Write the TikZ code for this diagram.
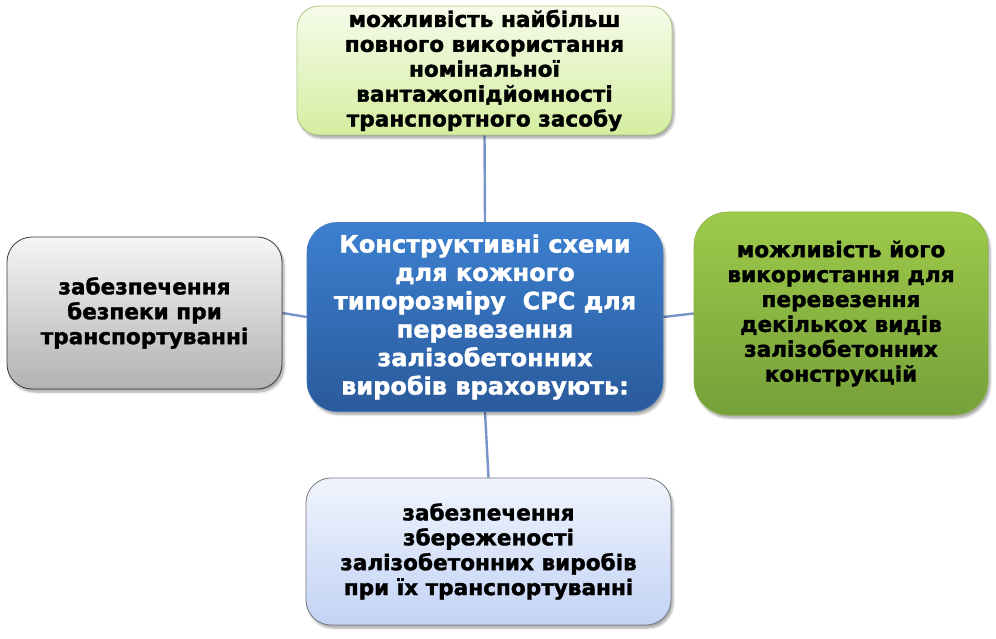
\documentclass[tikz,border=0pt]{standalone}
\usepackage{fontspec}
\setmainfont{DejaVu Sans}[BoldFeatures={FakeBold=1.5}]
\usetikzlibrary{shadows.blur,backgrounds}
\definecolor{linkc}{RGB}{118,148,200}
\tikzset{
  x=1pt,y=-1pt,
  box/.style={rectangle, rounded corners=24pt, align=center, inner sep=0pt,
    font=\fontsize{21.6}{24.9}\selectfont\bfseries, text=black,
    blur shadow={shadow xshift=2pt, shadow yshift=-3pt, shadow blur steps=6, shadow opacity=35}},
  link/.style={draw=linkc, line width=2.4pt}
}
\begin{document}
\begin{tikzpicture}
\useasboundingbox (0,0) rectangle (996,639);
\node[box, minimum width=375pt, minimum height=129pt, rounded corners=22pt,
  top color={rgb,255:red,246;green,251;blue,234}, bottom color={rgb,255:red,212;green,238;blue,160},
  draw={rgb,255:red,170;green,200;blue,130}, line width=0.8pt] (top) at (484.5,70.5)
  {можливість найбільш\\повного використання\\номінальної\\вантажопідйомності\\транспортного засобу};
\node[box, minimum width=356pt, minimum height=189pt, rounded corners=30pt,
  top color={rgb,255:red,60;green,128;blue,208}, bottom color={rgb,255:red,42;green,90;blue,155},
  draw={rgb,255:red,70;green,120;blue,190}, line width=0.6pt, text=white,
  font=\fontsize{24}{28.4}\selectfont\bfseries] (ctr) at (485,317)
  {Конструктивні схеми\\для кожного\\типорозміру\ \ СРС для\\перевезення\\залізобетонних\\виробів враховують:};
\node[box, minimum width=275pt, minimum height=152pt, rounded corners=25pt,
  top color={rgb,255:red,245;green,245;blue,245}, bottom color={rgb,255:red,178;green,178;blue,178},
  draw={rgb,255:red,60;green,60;blue,60}, line width=0.8pt] (lft) at (144.5,313)
  {забезпечення\\безпеки при\\транспортуванні};
\node[box, minimum width=294pt, minimum height=203pt, rounded corners=34pt,
  top color={rgb,255:red,157;green,202;blue,74}, bottom color={rgb,255:red,118;green,160;blue,58},
  draw={rgb,255:red,140;green,180;blue,70}, line width=0.6pt] (rgt) at (841,313.5)
  {можливість його\\використання для\\перевезення\\декількох видів\\залізобетонних\\конструкцій};
\node[box, minimum width=365pt, minimum height=147pt, rounded corners=25pt,
  top color={rgb,255:red,240;green,244;blue,253}, bottom color={rgb,255:red,194;green,211;blue,245},
  draw={rgb,255:red,120;green,120;blue,130}, line width=0.8pt] (bot) at (488.5,551.5)
  {забезпечення\\збереженості\\залізобетонних виробів\\при їх транспортуванні};
\begin{scope}[on background layer]
\draw[link] (top.south) -- (ctr.north);
\draw[link] (ctr.south) -- (bot.north);
\draw[link] (lft.east) -- (ctr.west);
\draw[link] (ctr.east) -- (rgt.west);
\end{scope}
\end{tikzpicture}
\end{document}
